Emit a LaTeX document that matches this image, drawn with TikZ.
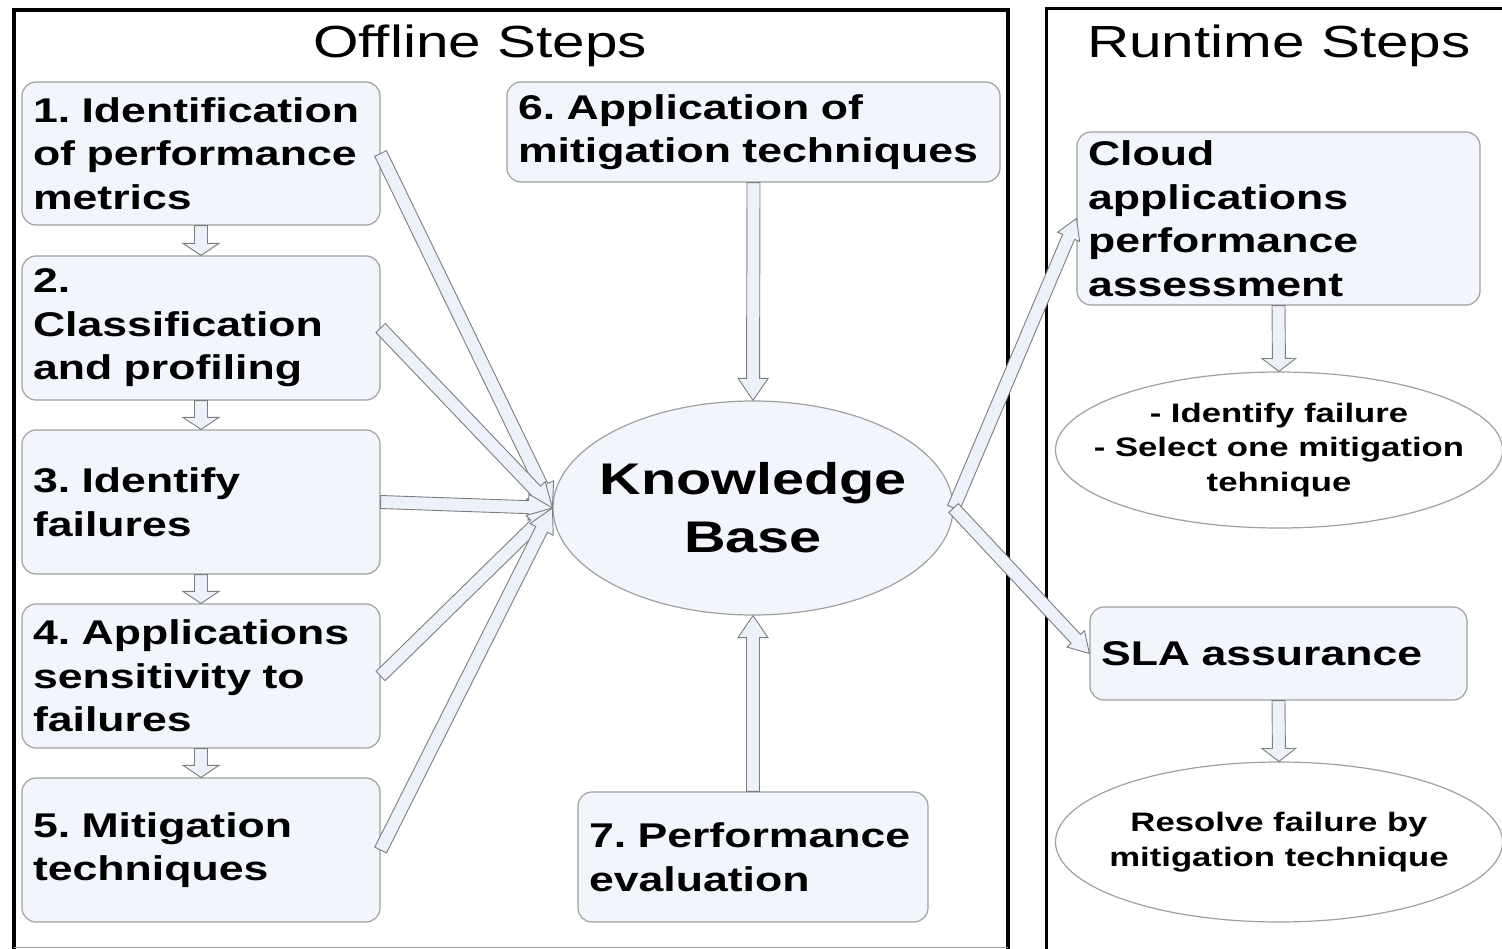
\documentclass[tikz,border=0pt]{standalone}
\usepackage{fontspec}
\setmainfont{Liberation Sans}[FakeStretch=1.3]
\usetikzlibrary{calc}
\usetikzlibrary{shapes.geometric}
\frenchspacing

\definecolor{boxfill}{RGB}{242,245,251}
\definecolor{boxline}{RGB}{160,160,160}
\definecolor{arrowfill}{RGB}{236,241,250}
\definecolor{arrowline}{RGB}{125,125,125}

\newcommand{\stepfont}{\fontsize{34.3}{43.5}\selectfont\bfseries}
\newcommand{\blockarrow}[4]{%
  \coordinate (ah) at ($(#2)!#3!(#1)$);
  \draw[arrowbody] ($(#1)!6.5pt!90:(#2)$) -- ($(ah)!6.5pt!90:(#2)$) -- ($(ah)!#4!90:(#2)$) -- (#2)
    -- ($(ah)!#4!-90:(#2)$) -- ($(ah)!6.5pt!-90:(#2)$) -- ($(#1)!6.5pt!-90:(#2)$) -- cycle;}

\begin{document}
\begin{tikzpicture}[x=1pt,y=-1pt,
    stepbox/.style={draw=boxline,line width=1.2pt,fill=boxfill,rounded corners=14pt,
      align=left,inner xsep=11pt,font=\stepfont},
    kbshape/.style={ellipse,draw=boxline,line width=1.2pt,fill=boxfill},
    rtshape/.style={ellipse,draw=boxline,line width=1.2pt,fill=white},
    arrowbody/.style={draw=arrowline,line width=0.9pt,fill=arrowfill,line join=miter}]
                    \useasboundingbox (0,0) rectangle (1502,949);

                    \draw[line width=4pt] (14,949) -- (14,10) -- (1008,10) -- (1008,949);
                    \draw[boxline,line width=1pt] (14,947) -- (1008,947);
                    \draw[line width=3pt] (1046,949) -- (1046,9) -- (1502,9);
                    \node[font=\fontsize{45}{50}\selectfont,anchor=base] (offtitle) at (480,58) {Offline Steps};
                    \node[font=\fontsize{45}{50}\selectfont,anchor=base] (rttitle) at (1279,58) {Runtime Steps};

                    \node[stepbox,text width=336pt,minimum height=143pt] (b1) at (201,153.5) {1. Identification\\of performance\\metrics};
                    \node[stepbox,text width=336pt,minimum height=144pt] (b2) at (201,328) {2.\\Classification\\and profiling};
                    \node[stepbox,text width=336pt,minimum height=144pt] (b3) at (201,502) {3. Identify\\failures};
                    \node[stepbox,text width=336pt,minimum height=144pt] (b4) at (201,676) {4. Applications\\sensitivity to\\failures};
                    \node[stepbox,text width=336pt,minimum height=144pt] (b5) at (201,850) {5. Mitigation\\techniques};
                    \node[stepbox,text width=471pt,minimum height=100pt] (b6) at (753.5,132) {6. Application of\\mitigation techniques};
                    \node[stepbox,text width=328pt,minimum height=130pt] (b7) at (753,857) {7. Performance\\evaluation};

                    \node[kbshape,minimum width=400pt,minimum height=214pt] (kb) at (753,508) {};
                    \node[font=\fontsize{44.3}{58}\selectfont\bfseries,align=center] (kbtext) at (kb) {Knowledge\\Base};

                    \node[stepbox,text width=381pt,minimum height=173pt] (cloud) at (1278.5,218.5) {Cloud\\applications\\performance\\assessment};
                    \node[rtshape,minimum width=447pt,minimum height=156pt] (e1) at (1279,450) {};
                    \node[font=\fontsize{26.7}{34.5}\selectfont\bfseries,align=center] (e1text) at (e1) {- Identify failure\\- Select one mitigation\\tehnique};
                    \node[stepbox,text width=355pt,minimum height=93pt] (sla) at (1278.5,653.5) {SLA assurance};
                    \node[rtshape,minimum width=447pt,minimum height=160pt] (e2) at (1279,842) {};
                    \node[font=\fontsize{26.7}{34.5}\selectfont\bfseries,align=center] (e2text) at (e2) {Resolve failure by\\mitigation technique};

                    \blockarrow{b1.south}{b2.north}{12pt}{18pt}
                    \blockarrow{b2.south}{b3.north}{12pt}{18pt}
                    \blockarrow{b3.south}{b4.north}{12pt}{18pt}
                    \blockarrow{b4.south}{b5.north}{12pt}{18pt}
                    \blockarrow{b1.east}{kb.west}{24pt}{13pt}
                    \blockarrow{b2.east}{kb.west}{24pt}{13pt}
                    \blockarrow{b3.east}{kb.west}{24pt}{13pt}
                    \blockarrow{b4.east}{kb.west}{24pt}{13pt}
                    \blockarrow{b5.east}{kb.west}{24pt}{13pt}
                    \blockarrow{b6.south}{kb.north}{22pt}{15pt}
                    \blockarrow{b7.north}{kb.south}{22pt}{15pt}
                    \blockarrow{kb.east}{cloud.west}{20pt}{12pt}
                    \blockarrow{kb.east}{sla.west}{20pt}{12pt}
                    \blockarrow{cloud.south}{e1.north}{13pt}{17pt}
                    \blockarrow{sla.south}{e2.north}{13pt}{17pt}
                \end{tikzpicture}
\end{document}
